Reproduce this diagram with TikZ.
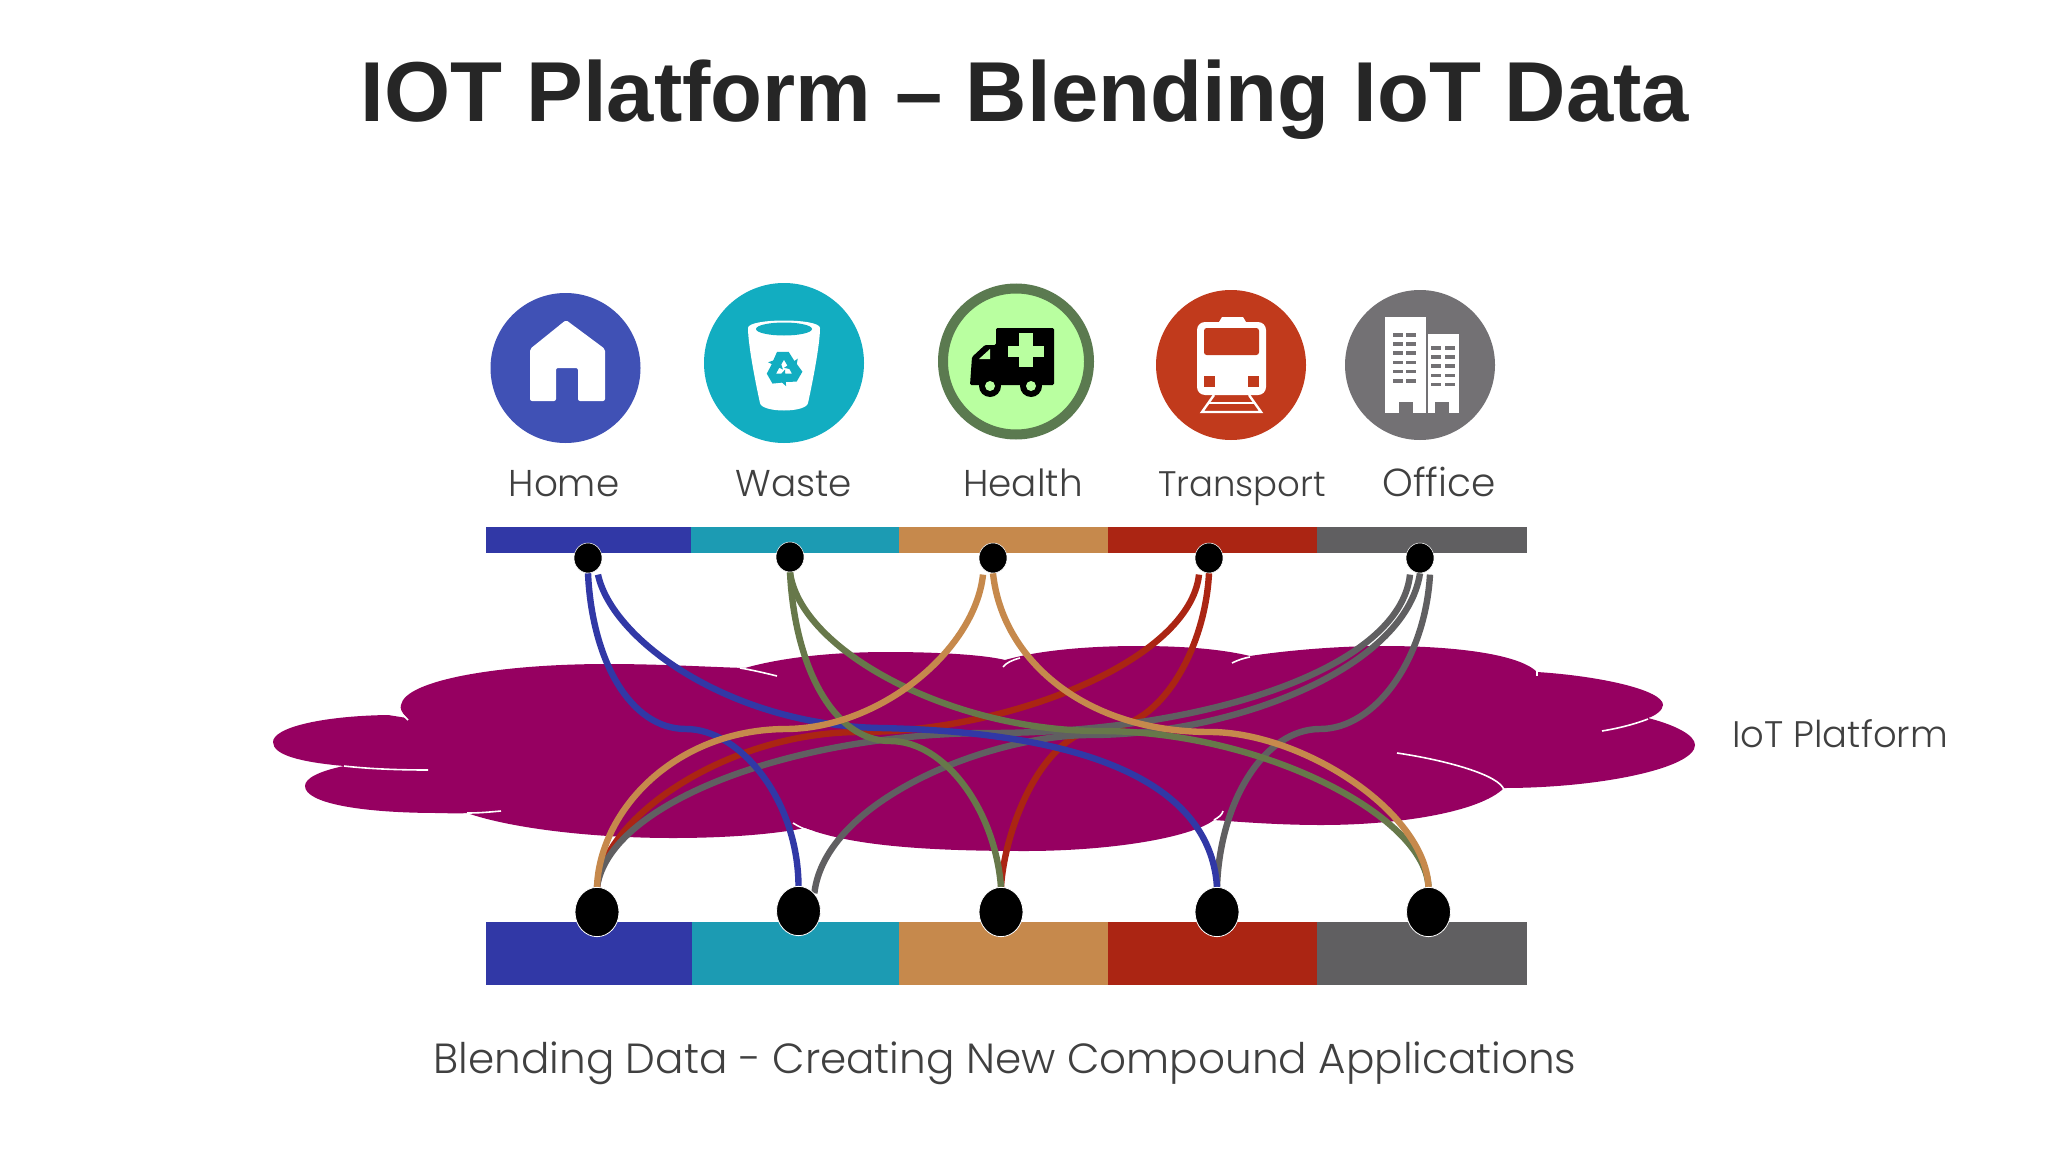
\documentclass[tikz,border=0pt]{standalone}
\usepackage{fontspec}
\usetikzlibrary{shapes.geometric}
\setmainfont{Liberation Sans}
\newfontfamily\gothic{Poppins Light}
\definecolor{cBlue}{HTML}{3138A6}
\definecolor{cTeal}{HTML}{1C9BB3}
\definecolor{cTan}{HTML}{C6894C}
\definecolor{cRed}{HTML}{AB2513}
\definecolor{cGray}{HTML}{605F61}
\definecolor{cOlive}{HTML}{67784A}
\definecolor{cCloud}{HTML}{960061}
\definecolor{iBlue}{HTML}{4051B5}
\definecolor{iTeal}{HTML}{12ADC1}
\definecolor{iGreen}{HTML}{B9FFA0}
\definecolor{iGreenB}{HTML}{5B7A50}
\definecolor{iRed}{HTML}{C13A1C}
\definecolor{iGray}{HTML}{737174}
\definecolor{txt}{HTML}{404040}
\pgfdeclarelayer{bg}
\pgfsetlayers{bg,main}
\tikzset{
  topdot/.style={ellipse,fill=black,draw=white,line width=0.4pt,inner sep=0pt,minimum width=21pt,minimum height=22.5pt},
  botdot/.style={ellipse,fill=black,draw=white,line width=0.6pt,inner sep=0pt,minimum width=33pt,minimum height=37pt},
  icon/.style={circle,inner sep=0pt,minimum size=#1*0.75pt},
  lab/.style={font=\gothic\fontsize{28}{34}\selectfont,text=txt,anchor=base,inner sep=0pt},
  link/.style={line width=4.8pt,draw=#1},
  crack/.style={draw=white,line width=1.2pt},
  barseg/.style={fill=#1,draw=none}
}
\begin{document}
\begin{tikzpicture}[x=0.75pt,y=-0.75pt]
\useasboundingbox (0,0) rectangle (2048,1152);
% text
\node[font=\bfseries\fontsize{63.8}{76}\selectfont,text=black!85,anchor=base,inner sep=0pt] (title) at (1025,122) {IOT Platform – Blending IoT Data};
\node[lab] (lhome) at (564,496) {Home};
\node[lab] (lwaste) at (794,496) {Waste};
\node[lab] (lhealth) at (1023,496) {Health};
\node[lab,font=\gothic\fontsize{26.6}{34}\selectfont] (ltrans) at (1242,496) {Transport};
\node[lab,font=\gothic\fontsize{29.3}{34}\selectfont] (loffice) at (1439,496) {Office};
\node[lab,font=\gothic\fontsize{27.7}{34}\selectfont] (lplat) at (1840,747) {IoT Platform};
\node[lab,font=\gothic\fontsize{31.6}{38}\selectfont] (lblend) at (1005,1073) {Blending Data - Creating New Compound Applications};
% dots
\node[topdot] (th) at (588,558) {};
\node[topdot] (tw) at (790,557) {};
\node[topdot] (tc) at (993,558) {};
\node[topdot] (tt) at (1209,558) {};
\node[topdot] (to) at (1420,558) {};
\node[botdot] (bh) at (597,912) {};
\node[botdot] (bw) at (798.5,911) {};
\node[botdot] (bc) at (1001,912) {};
\node[botdot] (bt) at (1217,912) {};
\node[botdot] (bo) at (1428.5,912) {};
\begin{pgfonlayer}{bg}
\fill[white] (0,0) rectangle (2048,1152);
% icons
\node[icon=150,fill=iBlue] (ihome) at (565.5,368) {};
\node[icon=160,fill=iTeal] (iwaste) at (784,363) {};
\node[icon=146,fill=iGreen,draw=iGreenB,line width=7.5pt] (ihealth) at (1016,361.5) {};
\node[icon=150,fill=iRed] (itrans) at (1231,365) {};
\node[icon=150,fill=iGray] (ioffice) at (1420,365) {};
% house
\fill[white,rounded corners=1.5pt] (566,320) -- (605,349) -- (605,401) -- (578,401) -- (578,368) -- (556,368) -- (556,401) -- (530,401) -- (530,349) -- cycle;
% cup
\fill[white] (748,328) .. controls (748,318) and (820,318) .. (820,328) .. controls (820,345) and (812,385) .. (808,403) .. controls (806,413) and (762,413) .. (760,403) .. controls (756,385) and (748,345) .. cycle;
\fill[iTeal] (784,329) ellipse [x radius=28,y radius=6.5];
\foreach \a in {0,120,240}{
  \begin{scope}[shift={(784,369)},rotate=\a,scale=1.15]
    \fill[iTeal] (-6,-15) -- (4,-15) -- (9,-7) -- (12,-9) -- (10,1) -- (0,-1) -- (3,-3) -- (0,-8) -- (-3,-3) -- (-10,-6) -- cycle;
  \end{scope}
}
% ambulance
\fill[black,rounded corners=1pt] (996,328) -- (1054,328) -- (1054,385) -- (970,385) -- (972,357) -- (985,345) -- (996,345) -- cycle;
\fill[iGreen] (1019,333) rectangle (1033,367);
\fill[iGreen] (1008,346) rectangle (1044,357);
\fill[iGreen] (979,359) -- (990,349) -- (990,359) -- cycle;
\fill[black] (990,386) circle [radius=11];
\fill[black] (1031,386) circle [radius=11];
\fill[iGreen] (990,386) circle [radius=5];
\fill[iGreen] (1031,386) circle [radius=5];
% train
\fill[white] (1219,322) -- (1222,317) -- (1243,317) -- (1246,322) -- cycle;
\fill[white,rounded corners=6pt] (1197,395) -- (1197,322) -- (1266,322) -- (1266,395) -- cycle;
\fill[iRed,rounded corners=2pt] (1204,355) -- (1204,328) -- (1259,328) -- (1259,355) -- cycle;
\fill[iRed] (1204,376) rectangle (1215,387);
\fill[iRed] (1248,376) rectangle (1259,387);
\draw[white,line width=1.8pt] (1214,395) -- (1202,412) -- (1261,412) -- (1249,395);
\draw[white,line width=1.8pt] (1209,403) -- (1254,403);
% office
\fill[white] (1385,317) rectangle (1426,413);
\fill[white] (1428,334) rectangle (1459,413);
\foreach \r in {0,1,2,3,4,5}{
  \fill[iGray] (1393,{333+\r*9.2}) rectangle (1403,{336.5+\r*9.2});
  \fill[iGray] (1406,{333+\r*9.2}) rectangle (1416,{336.5+\r*9.2});
}
\foreach \r in {0,1,2,3,4}{
  \fill[iGray] (1431,{346+\r*9.2}) rectangle (1441,{349.5+\r*9.2});
  \fill[iGray] (1445,{346+\r*9.2}) rectangle (1455,{349.5+\r*9.2});
}
\fill[iGray] (1399,402) rectangle (1413,413);
\fill[iGray] (1435,402) rectangle (1449,413);
% bars
\fill[barseg=cBlue] (486,527) rectangle (691,553);
\fill[barseg=cTeal] (691,527) rectangle (899,553);
\fill[barseg=cTan] (899,527) rectangle (1108,553);
\fill[barseg=cRed] (1108,527) rectangle (1317,553);
\fill[barseg=cGray] (1317,527) rectangle (1527,553);
\fill[barseg=cBlue] (486,922) rectangle (692,985);
\fill[barseg=cTeal] (692,922) rectangle (899,985);
\fill[barseg=cTan] (899,922) rectangle (1108,985);
\fill[barseg=cRed] (1108,922) rectangle (1317,985);
\fill[barseg=cGray] (1317,922) rectangle (1527,985);
% cloud
\fill[cCloud] (344,766) .. controls (300,762) and (273,755) .. (273,742)
  .. controls (273,728) and (320,716) .. (388,715) -- (407,718)
  .. controls (401,712) and (400,708) .. (401,705)
  .. controls (405,680) and (500,664) .. (607,664)
  .. controls (660,664) and (710,667) .. (745,668)
  .. controls (780,658) and (830,652) .. (888,652)
  .. controls (940,652) and (985,655) .. (1005,660)
  .. controls (1040,650) and (1090,646) .. (1138,646)
  .. controls (1190,646) and (1225,650) .. (1250,656)
  .. controls (1290,650) and (1340,646) .. (1383,646)
  .. controls (1460,646) and (1520,655) .. (1537,672)
  .. controls (1600,676) and (1663,690) .. (1663,705)
  .. controls (1663,710) and (1655,716) .. (1648,718)
  .. controls (1675,725) and (1695,735) .. (1695,745)
  .. controls (1695,768) and (1600,788) .. (1504,788)
  .. controls (1480,812) and (1400,825) .. (1321,825)
  .. controls (1280,825) and (1240,822) .. (1214,820)
  .. controls (1190,838) and (1110,851) .. (1025,851)
  .. controls (920,851) and (850,845) .. (805,828)
  .. controls (770,835) and (720,838) .. (673,838)
  .. controls (590,838) and (510,828) .. (467,813)
  .. controls (455,814) and (447,813) .. (439,813)
  .. controls (360,813) and (305,803) .. (305,786)
  .. controls (305,778) and (320,771) .. (344,766) -- cycle;
\draw[crack] (401,713) -- (408,720);
\draw[crack] (740,668) .. controls (752,670) and (765,673) .. (777,676);
\draw[crack] (1003,667) .. controls (1006,663) and (1012,660) .. (1020,658);
\draw[crack] (1232,663) .. controls (1238,660) and (1244,658) .. (1250,657);
\draw[crack] (1537,670) -- (1537,676);
\draw[crack] (1602,731) .. controls (1620,728) and (1635,724) .. (1648,719);
\draw[crack] (1397,753) .. controls (1445,760) and (1500,775) .. (1504,790);
\draw[crack] (1214,820) .. controls (1219,817) and (1222,815) .. (1223,811);
\draw[crack] (793,823) .. controls (799,827) and (806,830) .. (814,832);
\draw[crack] (467,813) .. controls (480,813) and (490,812) .. (501,811);
\draw[crack] (344,766) .. controls (370,769) and (400,770) .. (428,770);
% connectors
\draw[link=cRed] ([xshift=-7.5pt,yshift=-1pt]tt.south) .. controls (1190,660) and (1010,732) .. (860,732) .. controls (730,732) and (605,815) .. (bh.north);
\draw[link=cRed] (tt.south) .. controls (1205,650) and (1160,728) .. (1105,728) .. controls (1045,728) and (1005,825) .. (bc.north);
\draw[link=cGray] ([xshift=-7.5pt,yshift=-1pt]to.south) .. controls (1400,670) and (1200,733) .. (990,733) .. controls (800,733) and (610,800) .. (bh.north);
\draw[link=cGray] (to.south) .. controls (1405,670) and (1230,735) .. (1090,735) .. controls (990,735) and (825,800) .. (bw.north east);
\draw[link=cGray] ([xshift=7.5pt,yshift=-1pt]to.south) .. controls (1425,660) and (1375,729) .. (1320,729) .. controls (1265,729) and (1220,800) .. (bt.north);
\draw[link=cBlue] (th.south) .. controls (592,660) and (630,729) .. (686,729) .. controls (740,729) and (798,800) .. (bw.north);
\draw[link=cBlue] ([xshift=7.5pt,yshift=-1pt]th.south) .. controls (612,640) and (730,725) .. (880,728) .. controls (1080,732) and (1210,780) .. (bt.north);
\draw[link=cOlive] (tw.south) .. controls (795,670) and (835,741) .. (890,741) .. controls (945,741) and (995,810) .. (bc.north);
\draw[link=cOlive] (tw.south) .. controls (800,650) and (950,731) .. (1100,731) .. controls (1260,731) and (1425,815) .. (bo.north);
\draw[link=cTan] ([xshift=-7.5pt,yshift=-1pt]tc.south) .. controls (975,650) and (880,729) .. (785,729) .. controls (675,730) and (600,810) .. (bh.north);
\draw[link=cTan] (tc.south) .. controls (1002,660) and (1085,732) .. (1210,732) .. controls (1300,732) and (1425,810) .. (bo.north);
\end{pgfonlayer}
\end{tikzpicture}
\end{document}
